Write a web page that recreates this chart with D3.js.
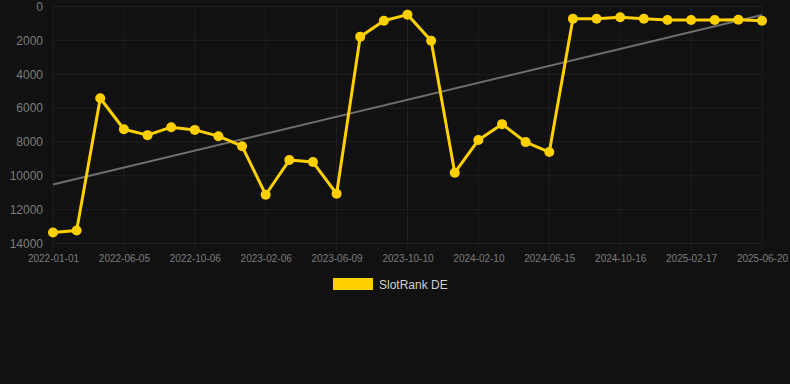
<!DOCTYPE html>
<html><head><meta charset="utf-8">
<script src="https://cdn.jsdelivr.net/npm/d3@7/dist/d3.min.js"></script>
<style>
html,body{margin:0;padding:0;background:#111111;}
svg{display:block;}
</style></head>
<body>
<svg id="chart" width="790" height="384"></svg>
<script>
const dates = [
 "2022-01-01","2022-02-22","2022-04-14","2022-06-05","2022-07-16","2022-08-26",
 "2022-10-06","2022-11-16","2022-12-27","2023-02-06","2023-03-19","2023-04-29",
 "2023-06-09","2023-07-20","2023-08-30","2023-10-10","2023-11-20","2023-12-31",
 "2024-02-10","2024-03-22","2024-05-04","2024-06-15","2024-07-26","2024-09-05",
 "2024-10-16","2024-11-26","2025-01-07","2025-02-17","2025-03-30","2025-05-10",
 "2025-06-20"];
const rankValues = [13350,13230,5420,7250,7600,7130,7290,7660,8250,11120,9070,9190,
 11060,1780,840,480,2020,9820,7890,6950,8010,8600,720,720,640,720,800,800,800,780,840];
const yTicks = [0,2000,4000,6000,8000,10000,12000,14000];
const seriesName = "SlotRank DE";

const svg = d3.select("#chart");
const pLeft = 53, pRight = 762, pTop = 6.5, pBottom = 243.5;

const x = d3.scalePoint().domain(dates).range([pLeft, pRight]);
const y = d3.scaleLinear().domain([0, 14000]).range([pTop, pBottom]);

// grid
const g = svg.append("g");
g.selectAll("line.h").data(yTicks).join("line")
  .attr("x1", pLeft).attr("x2", pRight).attr("y1", d => y(d)).attr("y2", d => y(d))
  .attr("stroke", "#1f1f1f").attr("stroke-width", 1);
const xTickLabels = dates.filter((d, i) => i % 3 === 0);
g.selectAll("line.v").data(xTickLabels).join("line")
  .attr("x1", d => x(d)).attr("x2", d => x(d)).attr("y1", pTop).attr("y2", pBottom + 6)
  .attr("stroke", "#1f1f1f").attr("stroke-width", 1);

// y axis labels
const yAxis = d3.axisLeft(y).tickValues(yTicks).tickSize(0).tickPadding(10).tickFormat(d => String(d));
const ya = svg.append("g").attr("transform", `translate(${pLeft},0)`).call(yAxis);
ya.select(".domain").remove();
ya.selectAll("text").attr("fill", "#7c7c7c").attr("font-family", "Liberation Sans, Arial, sans-serif").attr("font-size", 12);

// x axis labels
const xAxis = d3.axisBottom(x).tickValues(xTickLabels).tickSize(0).tickPadding(11);
const xa = svg.append("g").attr("transform", `translate(0,${pBottom})`).call(xAxis);
xa.select(".domain").remove();
xa.selectAll("text").attr("fill", "#7c7c7c").attr("font-family", "Liberation Sans, Arial, sans-serif").attr("font-size", 10);

// trend line (least squares over index)
const n = rankValues.length;
const idx = d3.range(n);
const mx = d3.mean(idx), my = d3.mean(rankValues);
const slope = d3.sum(idx, i => (i - mx) * (rankValues[i] - my)) / d3.sum(idx, i => (i - mx) ** 2);
const intercept = my - slope * mx;
svg.append("line")
  .attr("x1", x(dates[0])).attr("y1", y(intercept))
  .attr("x2", x(dates[n - 1])).attr("y2", y(intercept + slope * (n - 1)))
  .attr("stroke", "#6e6e6e").attr("stroke-width", 2);

// series line
const color = "#FFD000";
const line = d3.line().x((d, i) => x(dates[i])).y(d => y(d));
svg.append("path").datum(rankValues).attr("d", line)
  .attr("fill", "none").attr("stroke", color).attr("stroke-width", 3).attr("stroke-linejoin", "round");
svg.selectAll("circle.pt").data(rankValues).join("circle")
  .attr("cx", (d, i) => x(dates[i])).attr("cy", d => y(d)).attr("r", 5).attr("fill", color);

// legend
svg.append("rect").attr("x", 333).attr("y", 278).attr("width", 40).attr("height", 12).attr("fill", color);
svg.append("text").attr("x", 379).attr("y", 288.5).text(seriesName)
  .attr("fill", "#cfcfcf").attr("font-family", "Liberation Sans, Arial, sans-serif").attr("font-size", 12);
</script>
</body></html>
